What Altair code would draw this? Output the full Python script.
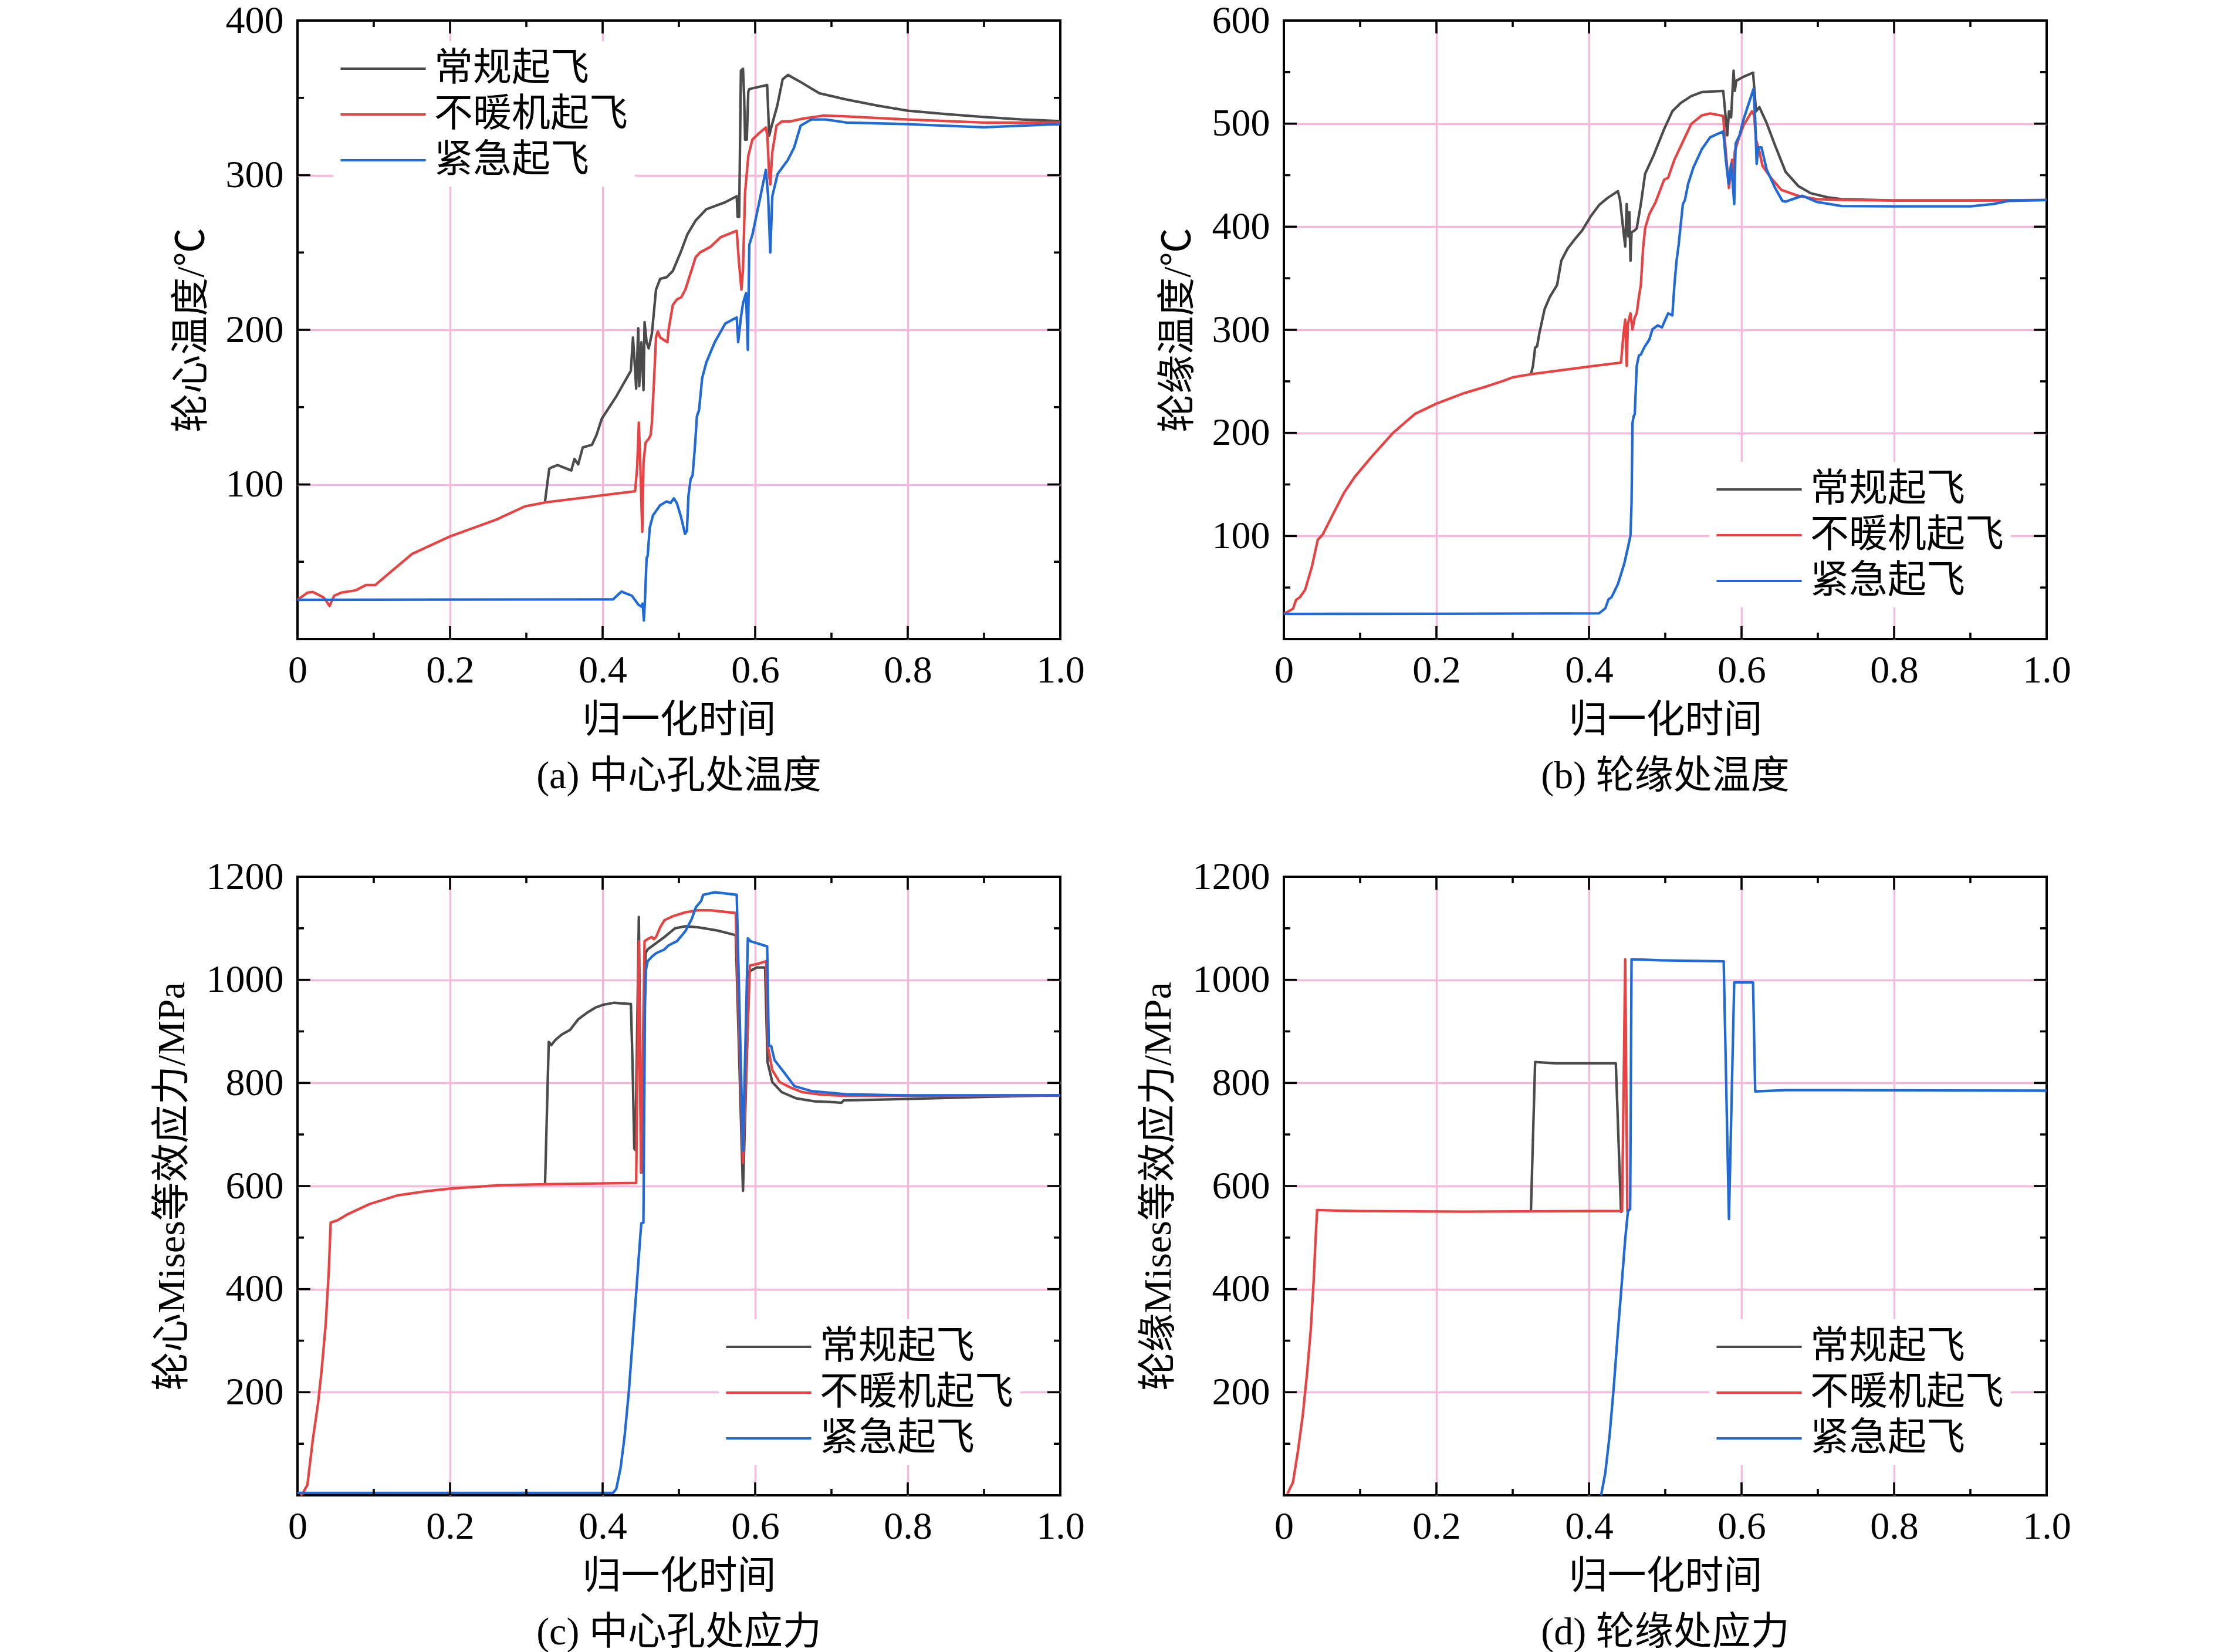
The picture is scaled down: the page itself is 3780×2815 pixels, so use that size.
import altair as alt
import pandas as pd

FONT = "Liberation Serif, Noto Sans CJK SC"
SERIES = ["常规起飞", "不暖机起飞", "紧急起飞"]
COLORS = ["#4b4b4b", "#e84242", "#1f6ad6"]
GRID = "#f8b8dc"

X_TITLE = "归一化时间"
Y_TITLES = ["轮心温度/℃", "轮缘温度/℃", "轮心Mises等效应力/MPa", "轮缘Mises等效应力/MPa"]
CAPTIONS = ["(a) 中心孔处温度", "(b) 轮缘处温度", "(c) 中心孔处应力", "(d) 轮缘处应力"]
X_MAJOR = [0, 0.2, 0.4, 0.6, 0.8, 1.0]
X_MINOR = [0.1, 0.3, 0.5, 0.7, 0.9]

# ---------------- (a) 中心孔处温度 ----------------
a_gray_t = [0.3245, 0.330, 0.333, 0.341, 0.359, 0.363, 0.368, 0.374, 0.386, 0.392, 0.399, 0.418, 0.437,
            0.4398, 0.4426, 0.444, 0.4467, 0.448, 0.4508, 0.4536, 0.455, 0.4577, 0.4604, 0.4646, 0.470,
            0.4755, 0.4838, 0.492, 0.503, 0.511, 0.522, 0.536, 0.547, 0.5607, 0.5758, 0.577, 0.579,
            0.5813, 0.584, 0.5855, 0.5868, 0.589, 0.591, 0.5923, 0.6157, 0.6184, 0.621, 0.629, 0.636,
            0.643, 0.657, 0.684, 0.719, 0.76, 0.8, 0.85, 0.9, 0.95, 1.0]
a_gray_v = [89, 110, 111, 112.5, 109, 116.5, 113, 124, 125.6, 132, 142.6, 157, 173.5,
            195, 174, 162, 201, 163.5, 192, 161, 205, 192, 188, 197.5, 226,
            233, 234, 238, 251, 261.6, 270.7, 278, 280, 282.5, 286.4, 273, 273,
            367.5, 368.8, 351.8, 323, 323, 354, 355.7, 358.3, 325.6, 330.8, 345, 362,
            364.8, 361, 353, 349, 345, 341.7, 339.5, 337.6, 336, 335]
a_red_t = [0, 0.013, 0.02, 0.03, 0.035, 0.042, 0.048, 0.057, 0.076, 0.09, 0.102, 0.118, 0.15, 0.2,
           0.261, 0.298, 0.326, 0.4, 0.4426, 0.4453, 0.4475, 0.4495, 0.452, 0.4536, 0.4563, 0.4604,
           0.463, 0.4646, 0.4673, 0.470, 0.4723, 0.4755, 0.485, 0.4865, 0.492, 0.4975, 0.503, 0.5085,
           0.522, 0.5277, 0.5415, 0.555, 0.5758, 0.5786, 0.582, 0.584, 0.5868, 0.5896, 0.591, 0.5964,
           0.6047, 0.614, 0.616, 0.6184, 0.6198, 0.6225, 0.628, 0.635, 0.646, 0.6624, 0.69, 0.72,
           0.8, 0.9, 1.0]
a_red_v = [25.4, 30, 30.5, 28, 26.6, 21.4, 28, 30, 31.5, 35, 35, 41.7, 55, 66.4,
           77.3, 85.8, 88.5, 93, 95.6, 111, 140, 111, 69.4, 114, 127, 129.5,
           132, 140, 166, 195, 199, 195, 192, 200, 216, 219.7, 221, 226,
           247, 250, 253.7, 260, 264, 244.6, 226, 239, 289, 304.7, 312.5, 323,
           327, 330.8, 325.6, 299.5, 294, 315, 332, 334.8, 334.8, 336.6, 338.6, 338,
           336, 334, 334]
a_blue_t = [0, 0.2, 0.4137, 0.4206, 0.4247, 0.4385, 0.4467, 0.4508, 0.4525, 0.4541, 0.4555, 0.4577,
            0.459, 0.4618, 0.466, 0.4755, 0.4838, 0.489, 0.4934, 0.4975, 0.503, 0.508, 0.5105, 0.5126,
            0.5154, 0.518, 0.521, 0.5236, 0.5264, 0.5305, 0.536, 0.547, 0.5607, 0.5758, 0.5777, 0.5813,
            0.584, 0.588, 0.5904, 0.5923, 0.5964, 0.6047, 0.614, 0.617, 0.6198, 0.6225, 0.6294, 0.643,
            0.651, 0.6596, 0.6734, 0.6926, 0.72, 0.8, 0.9, 0.95, 1.0]
a_blue_v = [25.4, 25.6, 25.7, 28.9, 30.7, 28, 22.4, 21, 23, 12, 25, 52.4,
            53.7, 72, 80, 86.6, 89, 88, 91, 87.7, 78.6, 68, 70, 93,
            103.4, 106, 124.3, 144, 148, 168.8, 179, 192, 204, 208, 192, 208,
            217, 223.7, 187, 255, 261.6, 281, 303.4, 286.4, 250, 286.4, 300.8, 310,
            317.8, 332, 336, 336, 334, 333, 331, 332, 333]

# ---------------- (b) 轮缘处温度 ----------------
b_gray_t = [0.3239, 0.3266, 0.3294, 0.332, 0.3349, 0.3418, 0.3486, 0.3582, 0.3637, 0.372, 0.3802,
            0.3912, 0.4022, 0.4132, 0.4242, 0.4379, 0.4407, 0.4448, 0.4475, 0.4495, 0.4516, 0.453,
            0.4544, 0.4558, 0.46, 0.4626, 0.468, 0.4736, 0.4846, 0.4984, 0.5093, 0.5203, 0.534,
            0.5478, 0.576, 0.5794, 0.5813, 0.5835, 0.5863, 0.5876, 0.5896, 0.5912, 0.5931, 0.6027,
            0.6151, 0.619, 0.6234, 0.633, 0.644, 0.6577, 0.6742, 0.6907, 0.7126, 0.7313, 0.8, 0.9, 1.0]
b_gray_v = [257, 265, 282.7, 284, 296.5, 320, 331.8, 343.5, 367, 378.8, 386.7,
            396.5, 410, 421, 427.8, 434.5, 426, 398.4, 380.8, 422, 390.6, 414,
            367, 394.5, 396.5, 398.4, 422, 451.4, 469, 494.5, 512, 520, 526.7,
            530.6, 531.8, 504.3, 488.6, 512, 506, 524, 551.4, 531.8, 541.6, 545.5,
            549.4, 512, 516, 500.4, 478.8, 453.3, 439.6, 432.5, 428.6, 426.7, 425.5, 425.5, 425.9]
b_red_t = [0, 0.012, 0.016, 0.021, 0.028, 0.037, 0.0445, 0.051, 0.065, 0.079, 0.093, 0.116, 0.1438,
           0.1716, 0.2, 0.2365, 0.264, 0.2876, 0.3005, 0.3239, 0.4, 0.442, 0.4448, 0.4475, 0.4495,
           0.451, 0.4544, 0.457, 0.46, 0.4626, 0.4654, 0.468, 0.4709, 0.4736, 0.479, 0.4874, 0.4984,
           0.5038, 0.512, 0.5258, 0.534, 0.5478, 0.5588, 0.576, 0.578, 0.5835, 0.5876, 0.589, 0.5912,
           0.5959, 0.6027, 0.6137, 0.6165, 0.619, 0.6234, 0.6275, 0.6385, 0.6522, 0.6742, 0.699,
           0.7313, 0.8, 0.9, 1.0]
b_red_v = [24.4, 29.4, 38, 40.6, 48, 71, 96.4, 101.5, 122, 142, 157.4, 177.7, 200.5,
           218.3, 228.4, 238.6, 244.7, 250.5, 254, 257, 264.3, 268.2, 292.5, 310, 265,
           306, 316, 300.4, 312, 316, 331.8, 343.5, 378.8, 398.4, 412, 424, 445.5,
           447.5, 465, 486.7, 499.6, 508, 509.8, 507.5, 484.7, 437.6, 465, 445.5, 473,
           484.7, 498.4, 512, 508, 484.7, 473, 459, 447.5, 435.7, 430, 426.7,
           426, 425.4, 425.5, 425.9]
b_blue_t = [0, 0.2, 0.4132, 0.4214, 0.4255, 0.4297, 0.4379, 0.4462, 0.4516, 0.4544, 0.4558, 0.4571,
            0.4585, 0.46, 0.4626, 0.4654, 0.468, 0.4723, 0.4791, 0.4832, 0.4901, 0.4956, 0.5038,
            0.5093, 0.512, 0.5148, 0.5176, 0.5203, 0.5231, 0.5258, 0.53, 0.5368, 0.5478, 0.5588,
            0.576, 0.5794, 0.583, 0.5863, 0.5885, 0.5904, 0.5923, 0.5973, 0.6027, 0.6157, 0.6179,
            0.6198, 0.622, 0.6261, 0.633, 0.644, 0.6536, 0.6577, 0.6797, 0.699, 0.7313, 0.8, 0.9,
            0.93, 0.95, 1.0]
b_blue_v = [24.4, 24.6, 25, 29.8, 38.4, 40.8, 53.3, 73, 90.6, 100.4, 131.8, 210,
            216, 218, 265, 275, 276, 282.7, 290.6, 300.4, 304.3, 302.4, 316,
            314, 343.5, 367, 382.7, 402.4, 422, 426, 441.6, 457.3, 475, 486.7,
            492.5, 465, 441.6, 461, 441.6, 422, 480.8, 488.6, 504.3, 533.7, 504.3,
            461, 477, 477, 455.3, 437.6, 425, 424.3, 430, 424, 420, 419.8, 419.8,
            422, 425, 425.9]

# ---------------- (c) 中心孔处应力 ----------------
c_gray_t = [0.3245, 0.3294, 0.3327, 0.3382, 0.3464, 0.3574, 0.3615, 0.3684, 0.3794, 0.3904, 0.4014,
            0.4151, 0.4371, 0.4393, 0.4415, 0.443, 0.4475, 0.4508, 0.4563, 0.459, 0.47, 0.481, 0.4948,
            0.5085, 0.525, 0.5497, 0.5745, 0.584, 0.5923, 0.602, 0.613, 0.6162, 0.6225, 0.6349,
            0.6541, 0.6788, 0.7063, 0.713, 0.7159, 0.8, 0.9, 1.0]
c_gray_v = [602, 879.7, 873.4, 883.6, 893.8, 903, 911, 924, 936, 946, 952,
            955.5, 953, 833, 672.7, 670, 1122, 626, 1051.6, 1059, 1071, 1083, 1100,
            1104, 1102, 1096, 1086.7, 590.6, 1016.4, 1024, 1024, 840.6, 801.6, 782,
            770, 764, 762.5, 761.5, 766, 769, 773, 776]
c_red_t = [0.004, 0.0065, 0.013, 0.02, 0.027, 0.0315, 0.037, 0.041, 0.0435, 0.053, 0.0667, 0.0944,
           0.1315, 0.1685, 0.2, 0.261, 0.326, 0.444, 0.4475, 0.4503, 0.455, 0.459, 0.4646, 0.467,
           0.47, 0.4755, 0.481, 0.492, 0.5085, 0.525, 0.5415, 0.5745, 0.584, 0.5931, 0.602, 0.6143,
           0.617, 0.6225, 0.6321, 0.6459, 0.6624, 0.6871, 0.7195, 0.8, 0.9, 1.0]
c_red_v = [0, 3, 20, 107, 179, 240, 332, 434, 529, 534, 546, 565,
           582, 590, 595, 601.4, 603.5, 606, 1075, 626, 1075, 1079, 1083, 1079,
           1083, 1102, 1115.6, 1123.4, 1131, 1135, 1135, 1129.7, 645, 1028, 1030.5, 1036,
           868, 825, 801.6, 791.4, 782, 777.3, 775, 775, 775.5, 776]
c_blue_t = [0, 0.2, 0.4137, 0.4179, 0.4234, 0.4288, 0.4343, 0.4398, 0.4453, 0.4495, 0.4508, 0.4535,
            0.4544, 0.4555, 0.4569, 0.459, 0.4646, 0.47, 0.481, 0.4865, 0.4975, 0.5085, 0.5168,
            0.5223, 0.5291, 0.5319, 0.547, 0.5758, 0.584, 0.5904, 0.5937, 0.6157, 0.6179, 0.621,
            0.6253, 0.6376, 0.6514, 0.6734, 0.7008, 0.7195, 0.8, 0.9, 1.0]
c_blue_v = [4.7, 4.7, 4.7, 12.5, 51.6, 114, 200, 309, 419, 505, 528, 529,
            715.6, 950, 1020, 1036, 1045, 1051.6, 1059, 1067, 1075, 1094.5, 1118,
            1141, 1153, 1165, 1170, 1165, 668.8, 1080.5, 1075, 1065, 872, 872,
            844.5, 821, 793.8, 784.4, 780.5, 778, 776, 776, 776]

# ---------------- (d) 轮缘处应力 ----------------
d_gray_t = [0.3239, 0.3294, 0.3555, 0.4352, 0.442, 0.4434]
d_gray_v = [551.6, 840.6, 838, 838, 550, 550]
d_red_t = [0.0046, 0.012, 0.0186, 0.025, 0.0306, 0.0353, 0.039, 0.0417, 0.0436, 0.097, 0.2365,
           0.4434, 0.4475, 0.4503, 0.453]
d_red_v = [3, 25.5, 87, 158, 240, 321.5, 413.5, 500, 553.4, 551.4, 550.4,
           551.6, 1040, 551.6, 550]
d_blue_t = [0.4159, 0.4214, 0.4269, 0.4324, 0.4379, 0.4434, 0.4475, 0.4511, 0.454, 0.4558, 0.4929,
            0.5766, 0.5835, 0.5904, 0.6151, 0.6179, 0.6577, 0.7313, 1.0]
d_blue_v = [0, 43.7, 114, 208, 317, 419, 497, 551.6, 555, 1040, 1038,
            1036, 536, 995, 995, 783.6, 786, 786, 785]

A_Y_MAJOR = [0, 100, 200, 300, 400]
A_Y_MINOR = [50, 150, 250, 350]
B_Y_MAJOR = [0, 100, 200, 300, 400, 500, 600]
B_Y_MINOR = [50, 150, 250, 350, 450, 550]
C_Y_MAJOR = [0, 200, 400, 600, 800, 1000, 1200]
C_Y_MINOR = [100, 300, 500, 700, 900, 1100]

W, H = 1300, 1054
MAJ, MIN = 22, 11
TICK_W = 3.6


def make_panel(series, ymax, ymaj, ymin, ytitle, caption, lx, ly):
    rows = []
    for name, (ts, vs) in zip(SERIES, series):
        for i, (t, v) in enumerate(zip(ts, vs)):
            rows.append({"t": t, "v": v, "s": name, "i": i})
    df = pd.DataFrame(rows)

    xs = alt.Scale(domain=[0, 1], nice=False, zero=False)
    ys = alt.Scale(domain=[0, ymax], nice=False, zero=False)

    xaxis = alt.Axis(
        values=X_MAJOR,
        labelExpr="datum.value == 0 ? '0' : format(datum.value, '.1f')",
        title=X_TITLE, grid=True,
        gridColor={"condition": {"test": "datum.value > 0.001 && datum.value < 0.999", "value": GRID},
                   "value": "transparent"},
        gridWidth=3.3, ticks=False, domain=False, labelFlush=False, labelOverlap=False,
        labelPadding=21, titlePadding=20,
        labelFont=FONT, labelFontSize=66, labelColor="black",
        titleFont=FONT, titleFontSize=66, titleFontWeight="normal", titleColor="black",
    )
    yaxis = alt.Axis(
        values=[v for v in ymaj if v > 0], format="d",
        title=ytitle, grid=True,
        gridColor={"condition": {"test": "datum.value < %f" % (ymax - 1), "value": GRID},
                   "value": "transparent"},
        gridWidth=3.3, ticks=False, domain=False, labelOverlap=False,
        labelPadding=24, titlePadding=24,
        labelFont=FONT, labelFontSize=66, labelColor="black",
        titleFont=FONT, titleFontSize=66, titleFontWeight="normal", titleColor="black",
    )
    legend = alt.Legend(
        orient="none", legendX=lx, legendY=ly, title=None, direction="vertical",
        symbolType="M-2.2,0H2.2", symbolSize=4356, symbolStrokeWidth=4,
        symbolOffset=38, labelOffset=52, rowPadding=10, padding=12,
        fillColor="white", labelFont=FONT, labelFontSize=66, labelColor="black",
        labelLimit=1000,
    )
    color = alt.Color("s:N", scale=alt.Scale(domain=SERIES, range=COLORS), sort=SERIES, legend=legend)

    layers = []
    for name in SERIES:
        layers.append(
            alt.Chart(df).transform_filter(alt.datum.s == name)
            .mark_line(strokeWidth=4.3, strokeJoin="round")
            .encode(x=alt.X("t:Q", scale=xs, axis=xaxis),
                    y=alt.Y("v:Q", scale=ys, axis=yaxis),
                    color=color, order="i:Q")
        )

    def xticks(vals, length):
        d = pd.DataFrame({"t": vals})
        base = alt.Chart(d).mark_rule(color="black", strokeWidth=TICK_W)
        return [
            base.encode(x=alt.X("t:Q", scale=xs, axis=xaxis), y=alt.value(H), y2=alt.value(H - length)),
            base.encode(x=alt.X("t:Q", scale=xs, axis=xaxis), y=alt.value(0), y2=alt.value(length)),
        ]

    def yticks(vals, length):
        d = pd.DataFrame({"v": vals})
        base = alt.Chart(d).mark_rule(color="black", strokeWidth=TICK_W)
        return [
            base.encode(y=alt.Y("v:Q", scale=ys, axis=yaxis), x=alt.value(0), x2=alt.value(length)),
            base.encode(y=alt.Y("v:Q", scale=ys, axis=yaxis), x=alt.value(W), x2=alt.value(W - length)),
        ]

    layers += xticks(X_MAJOR[1:-1], MAJ) + xticks(X_MINOR, MIN)
    layers += yticks(ymaj[1:-1], MAJ) + yticks(ymin, MIN)

    return alt.layer(*layers).properties(
        width=W, height=H,
        title=alt.TitleParams(caption, orient="bottom", anchor="middle", font=FONT, fontSize=66,
                              fontWeight="normal", color="black", offset=31),
    )


pa = make_panel([(a_gray_t, a_gray_v), (a_red_t, a_red_v), (a_blue_t, a_blue_v)],
                400, A_Y_MAJOR, A_Y_MINOR, Y_TITLES[0], CAPTIONS[0], 61, 35)
pb = make_panel([(b_gray_t, b_gray_v), (b_red_t, b_red_v), (b_blue_t, b_blue_v)],
                600, B_Y_MAJOR, B_Y_MINOR, Y_TITLES[1], CAPTIONS[1], 725, 752)
pc = make_panel([(c_gray_t, c_gray_v), (c_red_t, c_red_v), (c_blue_t, c_blue_v)],
                1200, C_Y_MAJOR, C_Y_MINOR, Y_TITLES[2], CAPTIONS[2], 718, 754)
pd_ = make_panel([(d_gray_t, d_gray_v), (d_red_t, d_red_v), (d_blue_t, d_blue_v)],
                 1200, C_Y_MAJOR, C_Y_MINOR, Y_TITLES[3], CAPTIONS[3], 725, 754)

chart = (
    alt.concat(pa, pb, pc, pd_, columns=2, spacing={"row": 405, "column": 381}, bounds="flush")
    .resolve_scale(color="independent")
    .resolve_legend(color="independent")
    .properties(padding={"left": 250, "top": -8, "right": 40, "bottom": 0}, background="white")
    .configure_view(stroke="black", strokeWidth=4)
)

chart.save("out.html", embed_options={"renderer": "svg", "actions": False})
